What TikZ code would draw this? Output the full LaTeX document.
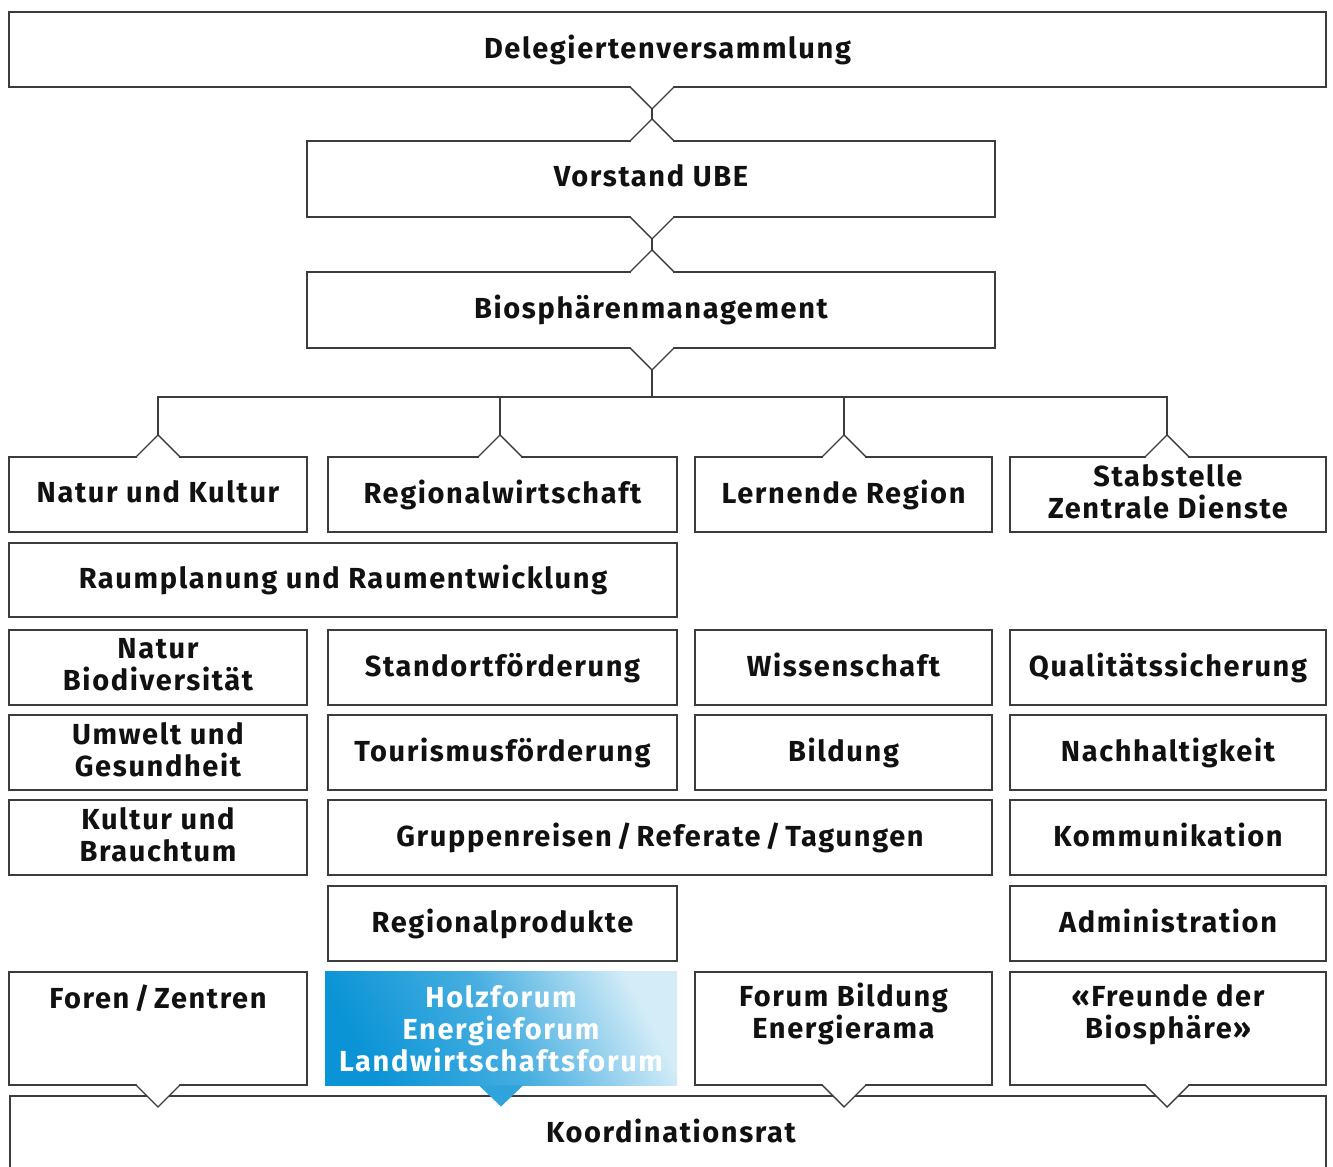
\documentclass[tikz,border=0pt]{standalone}
\usepackage{fontspec}
\setmainfont{Fira Sans}[LetterSpace=5.6]
\usetikzlibrary{positioning}
\definecolor{linegray}{HTML}{3C3C3C}
\definecolor{textblack}{HTML}{111111}
\definecolor{holzblue}{HTML}{0A94D6}
\definecolor{tipblue}{HTML}{2FA4DC}
\tikzset{
orgline/.style={draw=linegray, line width=1.4pt}, % all frames and connectors
box/.style={orgline, rectangle, minimum height=75pt, align=center, inner sep=0pt, outer sep=0pt,
  text depth=6pt, text=textblack, font=\bfseries\fontsize{29}{32}\selectfont},
boxtext/.style={align=center, inner sep=0pt, text=textblack, font=\bfseries\fontsize{29}{32}\selectfont},
holzbox/.style={rectangle, minimum width=352pt, minimum height=114pt, align=center, inner sep=0pt, outer sep=0pt,
  text=white, font=\bfseries\fontsize{29}{32}\selectfont,
  top color=holzblue!18!white, bottom color=holzblue, middle color=holzblue!75!white, shading angle=-62},
}
% V below a node (optional x offset from its south anchor)
\newcommand{\notchdown}[2][0]{%
  \coordinate (#2base) at ([xshift=#1pt]#2.south);
  \coordinate (#2tip) at ([yshift=-22pt]#2base);
  \draw[white, line width=2.4pt] ([xshift=-21pt]#2base) -- ([xshift=21pt]#2base);
  \fill[white] ([xshift=-22pt]#2base) -- (#2tip) -- ([xshift=22pt]#2base) -- cycle;
  \draw[orgline] ([xshift=-22pt]#2base) -- (#2tip) -- ([xshift=22pt]#2base);}
% inverted V above a node
\newcommand{\notchup}[2][0]{%
  \coordinate (#2top) at ([xshift=#1pt]#2.north);
  \coordinate (#2peak) at ([yshift=22pt]#2top);
  \draw[white, line width=2.4pt] ([xshift=-21pt]#2top) -- ([xshift=21pt]#2top);
  \fill[white] ([xshift=-22pt]#2top) -- (#2peak) -- ([xshift=22pt]#2top) -- cycle;
  \draw[orgline] ([xshift=-22pt]#2top) -- (#2peak) -- ([xshift=22pt]#2top);}

\begin{document}
\begin{tikzpicture}[x=1pt, y=1pt]
\useasboundingbox (0,0) rectangle (1333,1167);

% top chain
\node[box, minimum width=1317pt] (deleg) at (667.5,1117.5) {Delegiertenversammlung};
\node[box, minimum width=688pt, minimum height=76pt] (vorstand) at (651,988) {Vorstand UBE};
\node[box, minimum width=688pt, minimum height=76pt] (biosph) at (651,857) {Biosphärenmanagement};

% departments
\node[box, minimum width=298pt] (natkul) at (158,672.5) {Natur und Kultur};
\node[box, minimum width=349pt] (regwirt) at (502.5,672.5) {Regionalwirtschaft};
\node[box, minimum width=297pt] (lernreg) at (843.5,672.5) {Lernende Region};
\node[box, minimum width=316pt] (stab) at (1168,672.5) {Stabstelle\\Zentrale Dienste};

\node[box, minimum width=668pt, minimum height=74pt] (raum) at (343,587) {Raumplanung und Raumentwicklung};

\node[box, minimum width=298pt] (natbio) at (158,499.5) {Natur\\Biodiversität};
\node[box, minimum width=349pt] (standort) at (502.5,499.5) {Standortförderung};
\node[box, minimum width=297pt] (wissen) at (843.5,499.5) {Wissenschaft};
\node[box, minimum width=316pt] (quali) at (1168,499.5) {Qualitätssicherung};

\node[box, minimum width=298pt] (umwelt) at (158,414.5) {Umwelt und\\Gesundheit};
\node[box, minimum width=349pt] (tourismus) at (502.5,414.5) {Tourismusförderung};
\node[box, minimum width=297pt] (bildung) at (843.5,414.5) {Bildung};
\node[box, minimum width=316pt] (nachhalt) at (1168,414.5) {Nachhaltigkeit};

\node[box, minimum width=298pt] (kultur) at (158,329.5) {Kultur und\\Brauchtum};
\node[box, minimum width=664pt] (gruppen) at (660,329.5) {Gruppenreisen\,/\,Referate\,/\,Tagungen};
\node[box, minimum width=316pt] (kommu) at (1168,329.5) {Kommunikation};

\node[box, minimum width=349pt] (regprod) at (502.5,243.5) {Regionalprodukte};
\node[box, minimum width=316pt] (admin) at (1168,243.5) {Administration};

% Koordinationsrat runs off the bottom edge
\node[box, minimum width=1316pt, minimum height=90pt] (koord) at (668,26) {};
\node[boxtext] (koordtext) at (671,36) {Koordinationsrat};

% forums
\node[box, minimum width=298pt, minimum height=113pt] (foren) at (158,138.5) {};
\node[holzbox] (holz) at (501,138.5) {Holzforum\\Energieforum\\Landwirtschaftsforum};
\node[box, minimum width=297pt, minimum height=113pt] (forbil) at (843.5,138.5) {};
\node[box, minimum width=316pt, minimum height=113pt] (freunde) at (1168,138.5) {};
\node[boxtext, anchor=north] (forentext) at ([yshift=-13pt]foren.north) {Foren\,/\,Zentren};
\node[boxtext, anchor=north] (forbiltext) at ([yshift=-11pt]forbil.north) {Forum Bildung\\Energierama};
\node[boxtext, anchor=north] (freundetext) at ([yshift=-12pt]freunde.north) {«Freunde der\\Biosphäre»};
\coordinate (holztip) at ([yshift=-21pt]holz.south);
\fill[tipblue] ([xshift=-22pt]holz.south) -- (holztip) -- ([xshift=22pt]holz.south) -- cycle;

% notches
\notchdown[-15.5]{deleg}
\notchup[1]{vorstand}
\notchdown[1]{vorstand}
\notchup[1]{biosph}
\notchdown[1]{biosph}
\notchup{natkul}
\notchup[-2.5]{regwirt}
\notchup[0.5]{lernreg}
\notchup[-1]{stab}
\notchdown{foren}
\notchdown[0.5]{forbil}
\notchdown[-1]{freunde}

% connectors
\coordinate (bus) at ([yshift=38pt]natkulpeak);
\draw[orgline] (delegtip) -- (vorstandpeak);
\draw[orgline] (vorstandtip) -- (biosphpeak);
\draw[orgline] (biosphtip) -- (biosphtip |- bus);
\draw[orgline] (natkulpeak) -- (bus) -| (stabpeak);
\draw[orgline] (regwirtpeak) -- (regwirtpeak |- bus);
\draw[orgline] (lernregpeak) -- (lernregpeak |- bus);
\end{tikzpicture}
\end{document}
